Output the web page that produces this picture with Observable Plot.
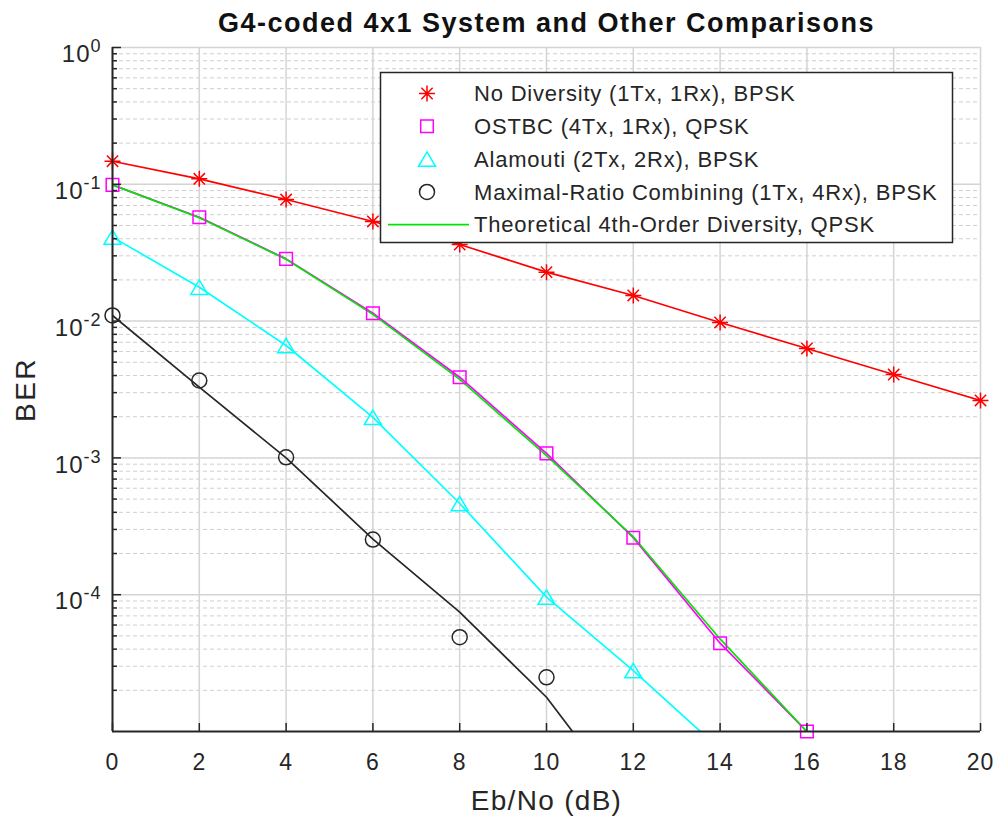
<!DOCTYPE html>
<html><head><meta charset="utf-8">
<script src="https://cdn.jsdelivr.net/npm/d3@7"></script>
<script src="https://cdn.jsdelivr.net/npm/@observablehq/plot@0.6"></script>
<style>
body{margin:0;background:#fff;}
#chart{position:relative;width:997px;height:817px;}
#chart svg{font-family:"Liberation Sans",Arial,Helvetica,sans-serif;}
g[aria-label="x-axis tick label"] text{letter-spacing:1px;}
g[aria-label="y-axis tick label"] text{letter-spacing:1px;}
g.legend text{letter-spacing:0.8px;}
</style></head><body><div id="chart"></div>
<script>
// ---- data ----
const ebno = [0, 2, 4, 6, 8, 10, 12, 14, 16, 18, 20];
const xTicks = [0, 2, 4, 6, 8, 10, 12, 14, 16, 18, 20];
const yMajorTicks = [1, 0.1, 0.01, 0.001, 0.0001];
const yMinorTicks = [];
for (const p of [1e-5, 1e-4, 1e-3, 1e-2, 1e-1]) for (let m = 2; m <= 9; m++) yMinorTicks.push(m * p);

// simulated markers
const berNoDiversity = [0.1475, 0.1097, 0.0774, 0.0535, 0.0363, 0.0228, 0.0154, 0.00977, 0.00631, 0.00407, 0.00263];
const berOSTBC = [0.0991, 0.0575, 0.0285, 0.01142, 0.00389, 0.00108, 0.000261, 0.0000442, 0.0000100];
const berAlamouti = [0.0411, 0.0177, 0.00663, 0.00198, 0.000464, 0.000096, 0.0000279];
const berMRC = [0.0110, 0.00368, 0.00101, 0.000253, 0.0000489, 0.0000249];
// curves
const fitAlamouti = [0.0411, 0.0177, 0.00663, 0.00198, 0.000464, 0.000096, 0.0000279, 0.0000074];
const fitMRC = [0.0110, 0.00329, 0.00100, 0.000255, 0.0000745, 0.0000178, 0.0000026];
const berTheory4th = [0.0991, 0.0570, 0.0283, 0.01120, 0.00375, 0.00104, 0.000265, 0.0000475, 0.0000100];

const titleText = "G4-coded 4x1 System and Other Comparisons";
const xLabel = "Eb/No (dB)";
const yLabel = "BER";
const legendLabels = [
  "No Diversity (1Tx, 1Rx), BPSK",
  "OSTBC (4Tx, 1Rx), QPSK",
  "Alamouti (2Tx, 2Rx), BPSK",
  "Maximal-Ratio Combining (1Tx, 4Rx), BPSK",
  "Theoretical 4th-Order Diversity, QPSK"
];
const colors = ["#ff0000", "#ff00ff", "#00ffff", "#262626", "#00e600"];

// ---- MATLAB-like marker symbols ----
const rOf = s => Math.sqrt(s / Math.PI);
const symAsterisk = {draw(c, s) { const r = rOf(s), d = r * 0.7071;
  c.moveTo(-r, 0); c.lineTo(r, 0); c.moveTo(0, -r); c.lineTo(0, r);
  c.moveTo(-d, -d); c.lineTo(d, d); c.moveTo(-d, d); c.lineTo(d, -d); }};
const symSquare = {draw(c, s) { const r = rOf(s); c.moveTo(-r, -r); c.lineTo(r, -r); c.lineTo(r, r); c.lineTo(-r, r); c.closePath(); }};
const symTriangle = {draw(c, s) { const r = rOf(s); const h = r * 0.85;
  c.moveTo(0, -h); c.lineTo(r, h); c.lineTo(-r, h); c.closePath(); }};
const symCircle = {draw(c, s) { const r = rOf(s); c.moveTo(r, 0); c.arc(0, 0, r, 0, 2 * Math.PI); }};
const symbols = [symAsterisk, symSquare, symTriangle, symCircle, null];
const markerR = [8, 6.3, 8.5, 7.5, 0];

const rows = arr => arr.map((y, i) => ({x: ebno[i], y}));

const W = 997, H = 817, mL = 112, mR = 17, mT = 47, mB = 86;
const innerW = W - mL - mR, innerH = H - mT - mB;
const ink = "#262626";

const lineSets = [
  [berNoDiversity, colors[0]],
  [berOSTBC, colors[1]],
  [fitAlamouti, colors[2]],
  [fitMRC, colors[3]],
];
const dotSets = [berNoDiversity, berOSTBC, berAlamouti, berMRC];

const marks = [
  Plot.gridY(yMinorTicks, {stroke: "#cfcfcf", strokeOpacity: 1, strokeWidth: 1, strokeDasharray: "4,3"}),
  Plot.gridY(yMajorTicks, {stroke: "#d4d4d4", strokeOpacity: 1, strokeWidth: 1.5}),
  Plot.gridX(xTicks, {stroke: "#d4d4d4", strokeOpacity: 1, strokeWidth: 1.5}),
  ...lineSets.map(([a, c]) => Plot.line(rows(a), {x: "x", y: "y", stroke: c, strokeWidth: 1.7, clip: true})),
  Plot.line(rows(berTheory4th), {x: "x", y: "y", stroke: colors[4], strokeWidth: 1.7, clip: true}),
  ...dotSets.map((a, i) => Plot.dot(rows(a), {x: "x", y: "y", symbol: symbols[i], r: markerR[i], stroke: colors[i], fill: "none", strokeWidth: 1.5})),
  Plot.ruleX([0], {stroke: ink, strokeWidth: 2}),
  Plot.ruleY([1e-5], {stroke: ink, strokeWidth: 2}),
  Plot.tickX(xTicks, {x: d => d, stroke: ink, strokeWidth: 1.5, insetTop: innerH - 8}),
  Plot.tickY(yMajorTicks, {y: d => d, stroke: ink, strokeWidth: 1.5, insetRight: innerW - 9}),
  Plot.tickY(yMinorTicks, {y: d => d, stroke: ink, strokeWidth: 1.5, insetRight: innerW - 5}),
  Plot.axisX(xTicks, {tickSize: 0, tickPadding: 22, fontSize: 23, fill: ink, tickFormat: d => String(d)}),
  Plot.axisY(yMajorTicks, {tickSize: 0, tickPadding: 11, fontSize: 24, fill: ink, dy: 7,
    tickFormat: d => "10^" + Math.round(Math.log10(d))}),
  Plot.text([titleText], {frameAnchor: "top", lineAnchor: "bottom", dy: -15.5,
    textAnchor: "middle", fontSize: 27, fontWeight: "bold", fill: "#111"}),
  Plot.text([xLabel], {frameAnchor: "bottom", lineAnchor: "bottom", dy: 78, textAnchor: "middle",
    fontSize: 28, fill: ink}),
  Plot.text([yLabel], {frameAnchor: "left", lineAnchor: "middle", textAnchor: "middle", rotate: -90, dx: -86,
    fontSize: 28, fill: ink})
];

const svg = Plot.plot({
  width: W, height: H,
  marginLeft: mL, marginRight: mR, marginTop: mT, marginBottom: mB,
  style: {background: "#fff", color: ink, fontFamily: '"Liberation Sans", Arial, Helvetica, sans-serif'},
  x: {domain: [0, 20], label: null},
  y: {type: "log", domain: [1e-5, 1], label: null},
  marks
});

// letter spacing to mimic the wider MATLAB text rendering
const spacing = {[titleText]: "1.5px", [xLabel]: "1.3px", [yLabel]: "2.5px"};
d3.select(svg).selectAll("text").each(function () {
  const sp = spacing[this.textContent];
  if (sp) this.style.letterSpacing = sp;
});

// superscript exponents on the y tick labels
d3.select(svg).selectAll('g[aria-label="y-axis tick label"] text').each(function () {
  const t = this.textContent;
  const [b, e] = t.split("^");
  const s = d3.select(this);
  s.selectAll("*").remove();
  s.text(b);
  s.append("tspan").attr("dy", "-0.55em").attr("font-size", 18).text(e);
});

// legend
const lg = d3.select(svg).append("g").attr("class", "legend")
  .attr("font-family", '"Liberation Sans", Arial, Helvetica, sans-serif')
  .attr("text-anchor", "start");
lg.append("rect").attr("x", 380.5).attr("y", 72.5).attr("width", 572).attr("height", 170)
  .attr("fill", "#fff").attr("stroke", ink).attr("stroke-width", 1.5);
legendLabels.forEach((lab, i) => {
  const cy = 93.5 + i * 32.8;
  if (symbols[i]) {
    const r = markerR[i];
    lg.append("path").attr("transform", `translate(427,${cy})`)
      .attr("d", d3.symbol(symbols[i], r * r * Math.PI)())
      .attr("fill", "none").attr("stroke", colors[i]).attr("stroke-width", 1.5);
  } else {
    lg.append("line").attr("x1", 388).attr("x2", 469).attr("y1", cy).attr("y2", cy)
      .attr("stroke", colors[i]).attr("stroke-width", 1.7);
  }
  lg.append("text").attr("x", 474).attr("y", cy).attr("dy", "0.35em")
    .attr("text-anchor", "start")
    .attr("font-size", 22).attr("fill", ink).text(lab);
});

document.getElementById("chart").appendChild(svg);
</script></body></html>
